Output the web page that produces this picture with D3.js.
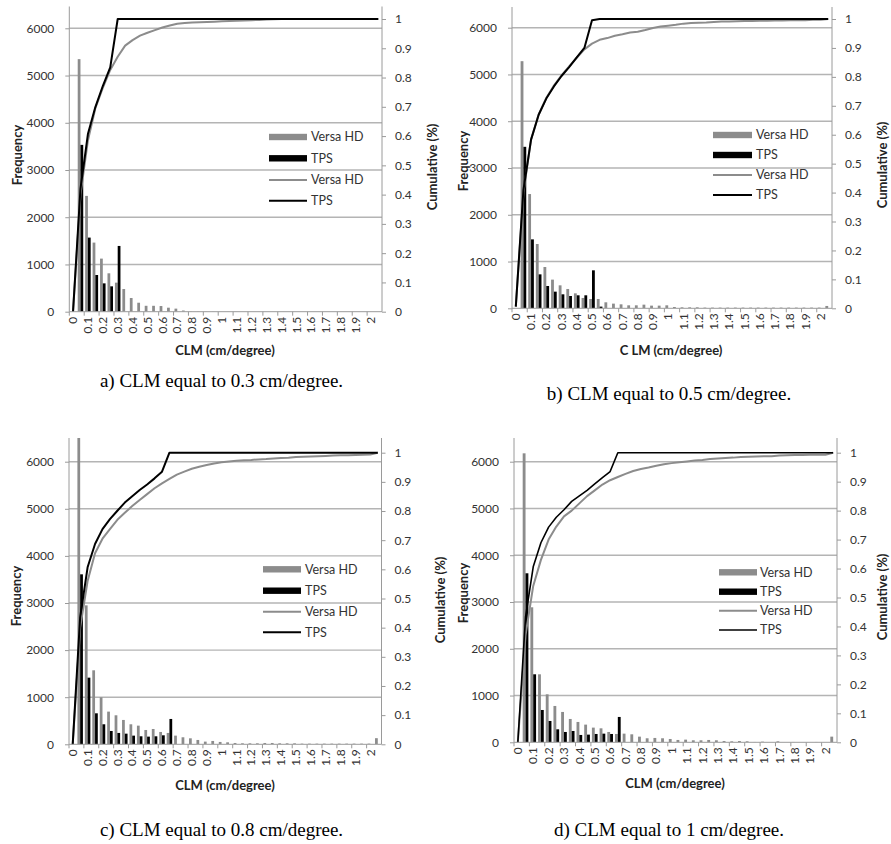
<!DOCTYPE html>
<html><head><meta charset="utf-8">
<script src="https://cdn.jsdelivr.net/npm/d3@7"></script>
<style>
body{margin:0;background:#fff;}
svg{display:block;}
.tick text{font-family:Lato,"Open Sans",sans-serif;font-size:12px;fill:#333;}
.ttl{font-family:Lato,"Open Sans",sans-serif;font-size:13px;font-weight:bold;fill:#222;}
.leg{font-family:Lato,"Open Sans",sans-serif;font-size:12.5px;fill:#333;}
.cap{font-family:"Liberation Serif","Times New Roman",serif;font-size:19px;fill:#000;}
</style></head>
<body><svg id="c" width="891" height="844"></svg>
<script>
// ---------- DATA ----------
const categories = ["0","0.05","0.1","0.15","0.2","0.25","0.3","0.35","0.4","0.45","0.5","0.55","0.6","0.65","0.7","0.75","0.8","0.85","0.9","0.95","1","1.05","1.1","1.15","1.2","1.25","1.3","1.35","1.4","1.45","1.5","1.55","1.6","1.65","1.7","1.75","1.8","1.85","1.9","1.95","2","2.05"];
const xTickCats = ["0","0.1","0.2","0.3","0.4","0.5","0.6","0.7","0.8","0.9","1","1.1","1.2","1.3","1.4","1.5","1.6","1.7","1.8","1.9","2"];
const freqTicks = [0,1000,2000,3000,4000,5000,6000];
const cumTicks = [0,0.1,0.2,0.3,0.4,0.5,0.6,0.7,0.8,0.9,1];

// a) CLM 0.3
const versaA = [0,5347,2452,1463,1124,813,615,480,290,190,125,125,120,85,65,25,6,4,3,3,2,2,2,1,1,1,1,1,0,0,0,0,0,0,0,0,0,0,0,0,0,0];
const tpsA   = [0,3532,1569,777,600,537,1392,0,0,0,0,0,0,0,0,0,0,0,0,0,0,0,0,0,0,0,0,0,0,0,0,0,0,0,0,0,0,0,0,0,0,0];
const versaCumA = [0,0.40,0.585,0.695,0.765,0.826,0.871,0.909,0.928,0.943,0.953,0.962,0.971,0.978,0.984,0.986,0.988,0.989,0.990,0.991,0.992,0.993,0.994,0.995,0.996,0.997,0.998,0.999,1,1,1,1,1,1,1,1,1,1,1,1,1,1];
const tpsCumA   = [0,0.42,0.607,0.699,0.771,0.835,1,1,1,1,1,1,1,1,1,1,1,1,1,1,1,1,1,1,1,1,1,1,1,1,1,1,1,1,1,1,1,1,1,1,1,1];

// b) CLM 0.5
const versaB = [0,5284,2443,1375,883,613,491,413,320,221,199,199,128,100,85,64,64,78,57,57,64,28,21,21,21,15,15,15,15,15,15,15,15,15,15,15,15,15,15,15,15,50];
const tpsB   = [0,3453,1474,726,477,356,299,263,278,278,812,36,0,0,0,0,0,0,0,0,0,0,0,0,0,0,0,0,0,0,0,0,0,0,0,0,0,0,0,0,0,0];
const versaCumB = [0.006,0.40,0.583,0.67,0.727,0.77,0.805,0.836,0.866,0.895,0.915,0.928,0.934,0.942,0.947,0.953,0.956,0.962,0.969,0.974,0.977,0.98,0.984,0.986,0.987,0.988,0.99,0.991,0.991,0.992,0.993,0.993,0.994,0.994,0.995,0.995,0.996,0.996,0.996,0.997,0.997,1.0];
const tpsCumB   = [0.006,0.409,0.583,0.669,0.725,0.767,0.803,0.834,0.867,0.900,0.996,1,1,1,1,1,1,1,1,1,1,1,1,1,1,1,1,1,1,1,1,1,1,1,1,1,1,1,1,1,1,1];

// c) CLM 0.8
const versaC = [0,7000,2950,1571,998,694,616,517,425,396,304,325,262,241,184,149,127,92,57,71,50,42,28,21,21,21,28,28,21,21,21,14,14,14,14,14,14,14,14,14,14,130];
const tpsC   = [0,3609,1415,658,425,283,241,226,184,170,163,170,191,538,0,0,0,0,0,0,0,0,0,0,0,0,0,0,0,0,0,0,0,0,0,0,0,0,0,0,0,0];
const versaCumC = [0,0.40,0.56,0.655,0.705,0.738,0.77,0.794,0.817,0.838,0.858,0.878,0.895,0.91,0.925,0.935,0.945,0.952,0.958,0.963,0.967,0.97,0.972,0.974,0.975,0.977,0.978,0.98,0.982,0.983,0.985,0.986,0.987,0.988,0.989,0.99,0.991,0.991,0.992,0.993,0.994,1.0];
const tpsCumC   = [0,0.436,0.607,0.687,0.738,0.772,0.801,0.829,0.851,0.872,0.891,0.912,0.935,1,1,1,1,1,1,1,1,1,1,1,1,1,1,1,1,1,1,1,1,1,1,1,1,1,1,1,1,1];

// d) CLM 1
const versaD = [0,6179,2887,1454,1026,777,649,499,435,378,314,299,221,178,185,171,121,86,93,86,71,50,57,43,43,50,43,28,21,28,21,7,14,0,21,0,7,0,0,7,0,121];
const tpsD   = [0,3614,1454,691,456,278,221,242,157,164,178,185,178,542,0,0,0,0,0,0,0,0,0,0,0,0,0,0,0,0,0,0,0,0,0,0,0,0,0,0,0,0];
const versaCumD = [0,0.37,0.54,0.63,0.70,0.745,0.78,0.80,0.825,0.85,0.87,0.89,0.905,0.916,0.927,0.937,0.944,0.949,0.955,0.96,0.964,0.967,0.97,0.973,0.975,0.978,0.98,0.982,0.983,0.985,0.986,0.987,0.988,0.988,0.99,0.991,0.992,0.992,0.993,0.993,0.993,1.0];
const tpsCumD   = [0,0.432,0.606,0.689,0.743,0.777,0.803,0.832,0.851,0.870,0.892,0.914,0.935,1,1,1,1,1,1,1,1,1,1,1,1,1,1,1,1,1,1,1,1,1,1,1,1,1,1,1,1,1];

const seriesNames = ["Versa HD","TPS"];
const xTitles = ["CLM (cm/degree)","C LM (cm/degree)","CLM (cm/degree)","CLM (cm/degree)"];
const captions = ["a) CLM equal to 0.3 cm/degree.","b) CLM equal to 0.5 cm/degree.","c) CLM equal to 0.8 cm/degree.","d) CLM equal to 1 cm/degree."];

// ---------- LAYOUT ----------
const panels = [
 {versa:versaA,tps:tpsA,vc:versaCumA,tc:tpsCumA, xl:69.3,xr:382,y0:311.7,y6:28.3,y1:19,top:6.5,
  fy:[17,155],cy:[432,167],xt:[225,350],cap:[221.5,380],leg:{x1:269,x2:307,tx:311,ys:[137,158.3,180,200.7]},tw:2},
 {versa:versaB,tps:tpsB,vc:versaCumB,tc:tpsCumB, xl:512,xr:832,y0:308.3,y6:27.7,y1:19,top:7,
  fy:[463,161],cy:[882,165],xt:[671,350],cap:[669,393],leg:{x1:713,x2:752,tx:756,ys:[135,155,175,195]},tw:2},
 {versa:versaC,tps:tpsC,vc:versaCumC,tc:tpsCumC, xl:69,xr:381.5,y0:744.3,y6:461.7,y1:452.7,top:438,
  fy:[16.5,596],cy:[440,600],xt:[225,785],cap:[221.5,829],leg:{x1:263,x2:301,tx:305,ys:[569.3,590.7,611.7,632.3]},tw:2},
 {versa:versaD,tps:tpsD,vc:versaCumD,tc:tpsCumD, xl:514,xr:837,y0:742.3,y6:461.7,y1:452.7,top:438,
  fy:[463,593],cy:[882,597],xt:[675,783],cap:[669,829],leg:{x1:719,x2:757,tx:760,ys:[572.3,591.7,610.7,630]},tw:1.6}
];

const GRAY = "#8c8c8c", GRID = "#b4b4b4", AXIS = "#9a9a9a";
const svg = d3.select("#c");

panels.forEach((p, pi) => {
  const g = svg.append("g");
  const x = d3.scaleBand().domain(categories).range([p.xl, p.xr]).padding(0);
  const bw = x.bandwidth();
  const yL = d3.scaleLinear().domain([0, 6000]).range([p.y0, p.y6]);
  const yR = d3.scaleLinear().domain([0, 1]).range([p.y0, p.y1]);
  const clipId = "clip" + pi;
  svg.append("clipPath").attr("id", clipId).append("rect")
    .attr("x", p.xl).attr("y", p.top).attr("width", p.xr - p.xl).attr("height", p.y0 - p.top);

  // gridlines
  g.selectAll(".grid").data(freqTicks.filter(d => d > 0)).join("line")
    .attr("x1", p.xl).attr("x2", p.xr).attr("y1", d => yL(d)).attr("y2", d => yL(d))
    .attr("stroke", GRID).attr("stroke-width", 1.4);

  // bars
  const barW = bw * 0.37;
  const bars = g.append("g").attr("clip-path", `url(#${clipId})`);
  bars.selectAll(".bv").data(p.versa).join("rect")
    .attr("x", (d, i) => x(categories[i]) + bw / 2 - barW)
    .attr("width", barW)
    .attr("y", d => yL(d)).attr("height", d => p.y0 - yL(d))
    .attr("fill", GRAY);
  bars.selectAll(".bt").data(p.tps).join("rect")
    .attr("x", (d, i) => x(categories[i]) + bw / 2)
    .attr("width", barW)
    .attr("y", d => yL(d)).attr("height", d => p.y0 - yL(d))
    .attr("fill", "#000");

  // cumulative lines
  const line = d3.line().x((d, i) => x(categories[i]) + bw / 2).y(d => yR(d));
  g.append("path").datum(p.vc).attr("d", line).attr("fill", "none")
    .attr("stroke", GRAY).attr("stroke-width", 2).attr("stroke-linejoin", "round");
  g.append("path").datum(p.tc).attr("d", line).attr("fill", "none")
    .attr("stroke", "#000").attr("stroke-width", p.tw).attr("stroke-linejoin", "round");

  // left axis
  const ax = g.append("g").attr("transform", `translate(${p.xl},0)`)
    .call(d3.axisLeft(yL).tickValues(freqTicks).tickSize(4).tickPadding(11).tickFormat(d3.format("d")));
  ax.select(".domain").attr("d", `M0,${p.top}V${p.y0}`);
  // right axis
  const ar = g.append("g").attr("transform", `translate(${p.xr},0)`)
    .call(d3.axisRight(yR).tickValues(cumTicks).tickSize(4).tickPadding(9).tickFormat(d => d3.format("~g")(d)));
  ar.select(".domain").attr("d", `M0,${p.top}V${p.y0}`);
  // bottom axis (labels)
  const ab = g.append("g").attr("transform", `translate(0,${p.y0})`)
    .call(d3.axisBottom(x).tickValues(xTickCats).tickSize(0).tickPadding(0));
  ab.select(".domain").attr("d", `M${p.xl},0H${p.xr}`);
  ab.selectAll(".tick text").attr("transform", "rotate(-90)")
    .attr("text-anchor", "end").attr("x", -5).attr("y", 0).attr("dy", "0.35em");
  // bottom tick marks at band boundaries
  g.selectAll(".bt2").data(xTickCats).join("line")
    .attr("x1", d => x(d)).attr("x2", d => x(d))
    .attr("y1", p.y0).attr("y2", p.y0 + 4).attr("stroke", AXIS);
  g.selectAll(".domain, .tick line").attr("stroke", AXIS);

  // titles
  g.append("text").attr("class", "ttl").attr("text-anchor", "middle")
    .attr("transform", `translate(${p.fy[0]},${p.fy[1]}) rotate(-90)`).attr("dy", "0.35em").text("Frequency");
  g.append("text").attr("class", "ttl").attr("text-anchor", "middle")
    .attr("transform", `translate(${p.cy[0]},${p.cy[1]}) rotate(-90)`).attr("dy", "0.35em").text("Cumulative (%)");
  g.append("text").attr("class", "ttl").attr("text-anchor", "middle")
    .attr("x", p.xt[0]).attr("y", p.xt[1]).attr("dy", "0.35em").text(xTitles[pi]);
  g.append("text").attr("class", "cap").attr("text-anchor", "middle")
    .attr("x", p.cap[0]).attr("y", p.cap[1]).attr("dy", "0.35em").text(captions[pi]);

  // legend
  const L = p.leg;
  const items = [
    {name: seriesNames[0], type: "bar", color: GRAY},
    {name: seriesNames[1], type: "bar", color: "#000"},
    {name: seriesNames[0], type: "line", color: GRAY},
    {name: seriesNames[1], type: "line", color: "#000"}
  ];
  items.forEach((it, k) => {
    const yy = L.ys[k];
    if (it.type === "bar") {
      g.append("rect").attr("x", L.x1).attr("y", yy - 3.2).attr("width", L.x2 - L.x1).attr("height", 6.4).attr("fill", it.color);
    } else {
      g.append("line").attr("x1", L.x1).attr("x2", L.x2).attr("y1", yy).attr("y2", yy)
        .attr("stroke", it.color).attr("stroke-width", k === 3 ? p.tw : 2);
    }
    g.append("text").attr("class", "leg").attr("x", L.tx).attr("y", yy).attr("dy", "0.35em").text(it.name);
  });
});
</script></body></html>
